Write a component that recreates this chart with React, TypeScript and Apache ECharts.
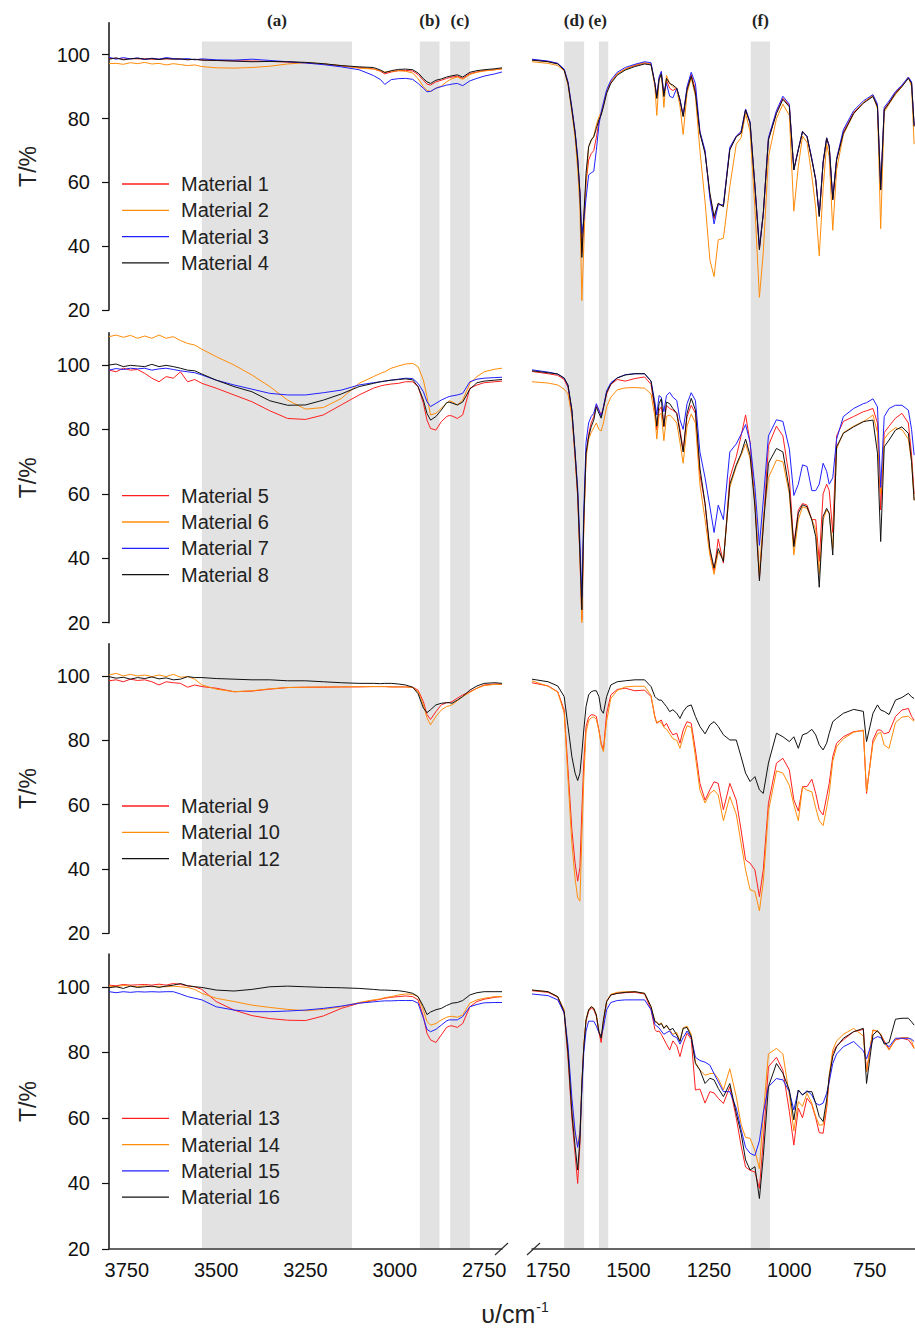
import React, { useEffect, useRef } from "react";
import * as echarts from "echarts";

// ---------- wavenumber grids (cm-1) ----------
const L_WN = [3800, 3780, 3760, 3740, 3720, 3700, 3680, 3660, 3640, 3620,
  3600, 3580, 3560, 3540, 3500, 3450, 3400, 3350, 3300, 3250,
  3200, 3150, 3100, 3060, 3040, 3028, 3010, 2990, 2970, 2950,
  2935, 2920, 2910, 2900, 2885, 2870, 2855, 2848, 2840, 2825,
  2810, 2790, 2770, 2750, 2720, 2700];

const R_WN = [1800, 1750, 1720, 1700, 1688, 1676, 1666, 1658, 1651, 1645,
  1639, 1632, 1624, 1616, 1608, 1600, 1592, 1585, 1578, 1568,
  1555, 1535, 1510, 1480, 1450, 1430, 1418, 1412, 1405, 1398,
  1390, 1382, 1372, 1362, 1350, 1340, 1330, 1318, 1305, 1292,
  1278, 1262, 1247, 1234, 1221, 1205, 1185, 1165, 1150, 1136,
  1122, 1107, 1093, 1081, 1065, 1040, 1020, 1000, 986, 972,
  959, 945, 930, 918, 907, 895, 884, 876, 865, 853,
  832, 800, 770, 760, 740, 726, 716, 705, 690, 670,
  650, 630, 620, 612];

// ---------- transmittance (T/%) ----------
// Panel 1
const M1_L = [98.8, 98.9, 98.6, 98.8, 98.7, 98.7, 98.6, 98.6, 98.7, 98.7,
  98.6, 98.5, 98.5, 98.4, 98.2, 98.1, 98.0, 97.9, 97.7, 97.5,
  97.1, 96.5, 96.0, 95.6, 94.8, 94.0, 94.6, 95.0, 95.1, 94.9,
  93.8, 92.0, 90.8, 90.5, 91.5, 92.0, 92.6, 92.8, 93.0, 93.3,
  92.6, 94.1, 94.6, 95.0, 95.3, 95.6];
const M2_L = [97.2, 97.3, 97.0, 97.5, 97.2, 97.6, 97.1, 97.3, 96.8, 97.2,
  96.9, 96.6, 96.8, 96.3, 95.9, 95.8, 96.0, 96.4, 97.1, 97.5,
  97.1, 96.6, 95.8, 95.5, 95.0, 94.6, 94.8, 95.0, 94.8, 94.3,
  92.5, 90.0, 88.8, 88.5, 89.5, 90.2, 91.5, 92.0, 92.5, 93.0,
  92.3, 93.8, 94.5, 94.9, 95.3, 95.6];
const M3_L = [99.2, 98.6, 99.1, 98.7, 99.0, 98.5, 98.9, 98.6, 99.1, 98.8,
  98.6, 98.8, 98.4, 98.7, 98.4, 98.3, 98.6, 98.2, 97.8, 97.4,
  96.9, 96.2, 95.3, 93.5, 92.2, 90.7, 92.2, 92.5, 92.6, 92.3,
  91.0, 89.5, 88.4, 88.5, 89.5, 90.0, 90.5, 90.6, 90.8, 91.0,
  90.3, 91.8, 92.6, 93.3, 94.0, 94.6];
const M4_L = [98.6, 99.0, 98.4, 98.7, 98.9, 98.6, 98.8, 98.5, 98.8, 98.6,
  98.7, 98.4, 98.6, 98.3, 98.2, 98.0, 97.8, 97.9, 97.8, 97.6,
  97.2, 96.6, 96.2, 96.0, 95.2, 94.4, 95.0, 95.4, 95.5, 95.3,
  94.3, 92.5, 91.5, 91.0, 92.0, 92.4, 93.0, 93.2, 93.4, 93.7,
  93.0, 94.5, 95.0, 95.3, 95.6, 95.9];

const M1_R = [98.4, 97.9, 97.2, 95.3, 91.2, 83.0, 75.6, 67.3, 56.8, 38.0,
  49.0, 60.0, 67.0, 69.0, 70.0, 74.0, 79.0, 81.5, 84.2, 88.3,
  91.4, 94.0, 95.5, 96.6, 97.4, 97.1, 91.0, 86.5, 92.5, 94.3,
  87.3, 92.0, 89.5, 88.8, 89.5, 85.9, 80.8, 89.4, 93.8, 89.0,
  75.6, 69.5, 56.0, 48.5, 53.3, 52.6, 70.5, 74.4, 75.6, 82.8,
  78.7, 58.8, 39.2, 50.2, 73.6, 81.9, 86.4, 84.0, 64.0, 70.3,
  75.9, 74.4, 67.2, 60.9, 49.6, 66.2, 73.9, 71.3, 54.7, 67.2,
  75.8, 81.9, 85.0, 85.7, 87.1, 84.0, 57.8, 83.0, 85.0, 88.1,
  90.2, 92.8, 91.2, 77.7];
const M2_R = [97.8, 97.3, 96.6, 95.0, 90.5, 82.0, 74.0, 64.0, 52.0, 23.0,
  40.0, 60.0, 71.0, 73.0, 74.5, 78.0, 80.5, 82.0, 84.5, 88.5,
  91.5, 94.0, 95.5, 96.8, 97.5, 97.0, 90.0, 81.0, 92.0, 94.5,
  83.5, 93.5, 91.0, 90.0, 89.0, 84.0, 75.0, 88.0, 92.8, 87.0,
  70.0, 54.0, 35.7, 30.5, 42.0, 42.5, 58.7, 72.0, 74.0, 81.5,
  76.0, 52.0, 24.0, 38.0, 68.0, 80.0, 84.5, 81.0, 51.0, 65.0,
  74.5, 72.5, 62.0, 52.0, 37.0, 58.0, 72.0, 68.0, 45.0, 64.0,
  75.0, 81.5, 85.0, 85.8, 87.3, 83.0, 45.5, 82.0, 84.5, 87.5,
  90.0, 93.0, 90.0, 72.0];
const M3_R = [98.6, 98.0, 97.3, 95.5, 91.5, 83.5, 76.0, 68.0, 57.0, 44.0,
  48.0, 55.0, 62.3, 63.0, 63.5, 70.0, 78.0, 82.0, 85.0, 89.0,
  92.0, 94.5, 96.0, 97.0, 97.8, 97.5, 91.0, 87.0, 93.0, 94.8,
  88.0, 91.0, 87.0, 86.5, 89.5, 86.0, 81.0, 90.0, 94.5, 91.0,
  76.0, 70.0, 55.0, 47.0, 53.0, 53.0, 71.0, 74.5, 76.0, 83.0,
  79.0, 59.0, 40.0, 50.0, 74.0, 82.5, 87.0, 84.5, 64.0, 70.5,
  76.0, 74.5, 67.5, 61.0, 50.0, 66.5, 74.0, 71.5, 55.0, 67.5,
  76.5, 82.5, 85.5, 86.2, 87.5, 84.5, 58.0, 83.5, 85.5, 88.5,
  90.5, 93.0, 91.5, 78.0];
const M4_R = [98.3, 97.8, 97.1, 95.2, 91.0, 82.7, 75.4, 67.0, 56.6, 36.5,
  49.3, 62.9, 71.2, 73.3, 74.3, 76.9, 79.6, 81.1, 83.7, 87.9,
  91.0, 93.6, 95.2, 96.3, 97.1, 96.8, 91.0, 86.3, 92.1, 94.0,
  86.9, 92.6, 91.0, 90.5, 89.5, 85.8, 80.6, 89.0, 93.3, 88.0,
  75.4, 69.1, 56.6, 49.3, 53.5, 52.4, 70.2, 74.3, 75.4, 82.7,
  78.5, 58.7, 38.9, 50.3, 73.3, 81.6, 86.0, 83.7, 63.9, 70.2,
  75.9, 74.3, 67.0, 60.8, 49.3, 66.0, 73.8, 71.2, 54.5, 67.0,
  75.4, 81.6, 84.8, 85.5, 86.9, 83.7, 57.6, 82.7, 84.8, 87.9,
  90.0, 92.6, 91.0, 77.5];

// Panel 2
const M5_L = [98.4, 97.9, 99.0, 98.4, 98.6, 97.4, 95.9, 94.8, 96.4, 95.9,
  97.9, 94.8, 95.5, 94.3, 92.8, 90.7, 88.6, 85.8, 83.4, 83.1,
  84.5, 87.6, 90.7, 92.8, 93.5, 93.8, 94.1, 94.3, 94.8, 94.8,
  93.3, 88.1, 82.9, 80.3, 79.8, 82.4, 84.0, 84.3, 84.2, 83.4,
  84.5, 92.8, 93.8, 94.5, 94.8, 95.0];
const M6_L = [108.8, 109.3, 108.6, 109.2, 108.3, 109.0, 108.3, 109.3, 108.3, 108.8,
  107.6, 106.7, 106.2, 104.9, 102.6, 100.0, 96.9, 93.3, 89.1, 86.3,
  86.8, 89.6, 94.3, 96.4, 97.4, 97.9, 99.0, 99.7, 100.3, 100.5,
  99.5, 95.3, 90.2, 84.5, 85.0, 86.6, 88.1, 88.9, 88.6, 87.6,
  89.1, 94.3, 96.4, 97.9, 98.7, 99.0];
const M7_L = [98.4, 98.9, 98.6, 99.0, 98.8, 99.0, 98.4, 98.8, 99.0, 98.6,
  98.2, 97.9, 97.6, 96.9, 95.3, 93.8, 92.5, 91.2, 90.7, 90.7,
  91.4, 92.2, 93.8, 94.5, 94.8, 95.0, 95.3, 95.6, 95.9, 95.8,
  94.3, 91.7, 88.6, 87.1, 88.1, 89.1, 89.9, 90.2, 90.4, 90.7,
  91.2, 94.8, 95.6, 95.9, 96.1, 96.2];
const M8_L = [100.0, 100.3, 99.5, 99.9, 99.7, 99.5, 100.2, 99.5, 99.9, 99.5,
  99.0, 98.4, 98.2, 97.2, 95.3, 93.3, 91.7, 88.9, 87.5, 87.6,
  89.1, 91.0, 93.3, 94.3, 94.8, 95.0, 95.3, 95.5, 95.7, 95.4,
  93.3, 89.1, 85.0, 82.9, 84.0, 86.0, 88.3, 88.5, 88.2, 87.6,
  88.5, 92.5, 94.5, 95.0, 95.3, 95.5];

const M5_R = [98.0, 97.3, 96.8, 95.5, 93.0, 85.0, 71.0, 59.0, 40.0, 21.0,
  50.0, 72.0, 78.5, 82.0, 84.0, 87.5, 86.0, 84.5, 86.8, 91.0,
  94.0, 95.5, 95.0, 95.8, 96.3, 94.0, 86.0, 79.8, 86.0, 87.0,
  80.8, 87.5, 86.5, 86.0, 85.0, 80.0, 73.5, 84.0, 87.5, 85.0,
  66.0, 57.0, 42.0, 36.0, 46.0, 38.5, 65.0, 71.5, 78.0, 84.5,
  76.0, 57.0, 34.0, 50.0, 75.0, 81.0, 78.0, 65.0, 44.0, 55.0,
  57.0, 56.5, 52.0, 52.0, 39.0, 60.0, 63.0, 61.0, 48.0, 78.0,
  82.5, 84.0, 85.5, 85.8, 86.5, 82.0, 55.0, 79.0, 81.0, 83.5,
  85.0, 82.0, 72.0, 60.0];
const M6_R = [94.8, 94.4, 93.8, 92.5, 91.0, 84.0, 72.0, 60.0, 41.0, 20.0,
  50.0, 71.0, 77.0, 79.0, 80.5, 82.0, 80.0, 79.5, 82.0, 87.0,
  90.0, 92.3, 92.9, 93.0, 92.8, 91.0, 84.0, 77.0, 84.5, 85.0,
  76.5, 84.0, 84.5, 83.5, 82.0, 76.0, 69.5, 81.0, 84.8, 82.0,
  63.0, 52.0, 41.0, 35.0, 42.0, 39.5, 62.0, 68.5, 72.0, 75.5,
  71.0, 58.0, 35.0, 52.0, 65.0, 70.5, 70.0, 60.0, 41.0, 52.0,
  56.0, 55.5, 52.0, 49.0, 35.0, 52.0, 55.0, 54.0, 43.0, 74.0,
  79.0, 81.0, 82.5, 83.0, 84.5, 79.0, 60.0, 77.0, 79.0, 80.5,
  80.0, 77.0, 70.0, 58.0];
const M7_R = [98.5, 97.8, 97.2, 96.0, 93.5, 86.0, 73.0, 62.0, 45.0, 28.0,
  55.0, 76.0, 82.0, 84.0, 85.0, 88.0, 86.0, 84.0, 87.0, 92.0,
  94.5, 96.0, 97.0, 97.3, 97.3, 95.0, 88.5, 84.5, 90.5, 90.0,
  85.5, 90.5, 91.5, 90.0, 89.0, 83.0, 80.0, 88.0, 91.4, 89.0,
  73.0, 65.0, 56.0, 48.0, 56.5, 52.0, 73.0, 75.5, 78.5, 81.5,
  76.0, 62.0, 44.0, 58.0, 78.0, 83.0, 82.5, 74.0, 59.5, 63.0,
  69.0, 68.5, 61.0, 61.0, 63.0, 69.5, 67.0, 63.0, 65.0, 77.0,
  84.0, 86.5, 88.0, 88.3, 89.5, 87.0, 62.0, 84.0, 86.5, 87.5,
  87.5, 86.0, 80.0, 72.0];
const M8_R = [98.2, 97.6, 97.2, 95.9, 93.8, 86.0, 72.6, 60.2, 41.5, 24.0,
  52.0, 72.6, 77.7, 80.8, 82.9, 87.0, 85.0, 83.5, 86.5, 91.5,
  94.0, 96.0, 96.9, 97.3, 97.3, 95.0, 87.0, 81.0, 88.0, 89.5,
  81.0, 88.5, 88.0, 86.5, 85.0, 79.0, 73.0, 85.0, 89.7, 86.0,
  68.0, 57.0, 43.0, 37.0, 43.0, 39.0, 63.0, 69.0, 72.5, 77.0,
  72.0, 56.0, 33.0, 49.8, 69.5, 74.1, 73.0, 61.2, 43.6, 54.0,
  56.6, 56.0, 51.9, 46.7, 31.0, 53.0, 55.5, 54.0, 41.0, 74.6,
  78.8, 80.8, 82.4, 82.6, 82.9, 72.6, 45.2, 74.6, 76.7, 79.8,
  80.8, 78.8, 70.0, 58.0];

// Panel 3
const M9_L = [98.5, 98.8, 98.2, 99.0, 98.6, 98.8, 98.2, 97.2, 98.2, 97.9,
  97.7, 96.5, 97.2, 96.7, 96.2, 95.1, 95.3, 95.9, 96.4, 96.5,
  96.5, 96.6, 96.6, 96.7, 96.7, 96.7, 96.6, 96.6, 96.6, 96.5,
  95.6, 92.0, 88.0, 86.5, 88.9, 91.0, 91.7, 91.7, 92.0, 93.1,
  94.1, 95.1, 96.2, 97.2, 97.5, 97.4];
const M10_L = [100.3, 100.8, 100.0, 100.5, 100.0, 100.3, 99.8, 100.3, 99.8, 100.5,
  99.6, 99.8, 99.0, 97.2, 95.9, 95.1, 95.4, 96.0, 96.4, 96.5,
  96.6, 96.6, 96.7, 96.7, 96.7, 96.7, 96.6, 96.6, 96.6, 96.4,
  95.1, 91.0, 87.0, 84.8, 87.4, 89.4, 90.5, 90.7, 91.0, 92.3,
  93.6, 94.9, 96.2, 97.0, 97.4, 97.4];
const M12_L = [99.8, 99.3, 99.6, 99.0, 99.5, 99.2, 99.7, 99.1, 99.4, 98.8,
  99.0, 99.8, 99.5, 99.5, 99.2, 99.0, 98.8, 98.8, 98.5, 98.5,
  98.2, 97.9, 97.7, 97.7, 97.6, 97.7, 97.7, 97.5, 97.2, 96.5,
  94.5, 90.0, 88.6, 89.5, 91.0, 91.5, 91.7, 91.7, 91.5, 92.5,
  93.6, 95.6, 96.9, 97.7, 97.9, 97.7];

const M9_R = [97.9, 96.9, 95.1, 89.4, 70.8, 52.1, 41.8, 36.2, 40.5, 58.0,
  73.0, 84.3, 87.2, 87.9, 87.9, 87.4, 83.2, 79.1, 77.0, 88.4,
  94.1, 95.8, 96.2, 95.4, 95.6, 93.6, 87.4, 85.3, 85.8, 86.3,
  84.3, 85.3, 83.2, 81.7, 82.2, 79.1, 83.2, 85.8, 85.3, 77.0,
  66.6, 61.4, 64.6, 67.1, 66.6, 58.4, 66.6, 61.4, 52.1, 42.8,
  41.8, 39.7, 31.4, 39.7, 60.4, 72.9, 74.4, 70.8, 61.5, 58.0,
  65.6, 65.6, 67.9, 63.5, 58.4, 56.8, 62.5, 66.6, 74.9, 79.1,
  81.1, 82.7, 83.0, 63.5, 80.1, 83.2, 83.2, 82.0, 82.5, 87.4,
  89.4, 89.9, 87.4, 86.3];
const M10_R = [98.5, 96.8, 95.0, 88.5, 68.0, 48.0, 37.0, 31.0, 30.0, 50.0,
  68.0, 82.5, 86.0, 87.0, 87.3, 86.5, 83.0, 78.5, 76.5, 86.0,
  93.0, 95.5, 96.6, 96.8, 96.8, 94.0, 87.0, 85.5, 86.0, 85.5,
  84.0, 83.5, 82.0, 80.5, 80.0, 77.5, 81.0, 84.5, 84.0, 75.0,
  64.5, 60.5, 63.5, 64.5, 63.0, 55.0, 62.5, 57.0, 48.0, 39.7,
  33.5, 33.0, 27.0, 36.0, 58.0, 70.5, 69.8, 66.0, 60.0, 55.0,
  65.5, 64.5, 64.0, 59.0, 55.0, 53.5, 59.0, 63.5, 73.5, 78.0,
  80.5, 82.5, 83.2, 64.0, 79.0, 82.0, 82.5, 78.5, 77.5, 85.5,
  87.2, 87.5, 86.5, 86.0];
const M12_R = [99.0, 98.2, 96.9, 93.6, 84.3, 74.9, 69.8, 67.5, 69.8, 76.0,
  83.2, 90.5, 94.1, 95.1, 95.4, 95.4, 93.6, 89.4, 88.4, 93.6,
  97.2, 98.2, 98.5, 98.8, 98.8, 96.7, 93.6, 93.0, 92.5, 92.5,
  91.5, 90.5, 88.9, 89.5, 88.4, 86.8, 88.9, 90.5, 91.0, 87.4,
  84.3, 82.0, 84.8, 85.8, 84.3, 81.7, 80.1, 80.1, 74.9, 69.8,
  67.2, 68.7, 64.6, 63.5, 72.9, 82.2, 81.1, 79.6, 81.1, 77.5,
  81.7, 82.2, 83.4, 81.7, 78.6, 77.0, 79.1, 82.2, 85.8, 86.8,
  88.4, 89.6, 89.0, 79.6, 88.4, 91.0, 89.4, 89.0, 88.0, 92.5,
  93.3, 94.6, 93.5, 93.0];

// Panel 4
const M13_L = [100.5, 100.3, 100.7, 100.5, 100.6, 100.7, 100.5, 100.8, 100.5, 101.0,
  100.7, 100.3, 100.0, 99.2, 95.5, 92.9, 91.2, 90.3, 89.8, 89.7,
  91.1, 93.4, 95.0, 95.8, 96.2, 96.5, 96.8, 97.0, 97.2, 97.0,
  96.0, 90.9, 85.8, 83.8, 83.0, 85.3, 87.6, 88.0, 88.1, 87.6,
  88.8, 93.9, 95.5, 96.2, 96.8, 97.0];
const M14_L = [100.2, 100.0, 100.4, 100.2, 100.0, 100.3, 100.0, 100.2, 100.0, 100.2,
  100.0, 99.8, 99.2, 98.0, 96.5, 95.5, 94.4, 93.7, 93.1, 92.7,
  93.1, 93.9, 95.2, 96.0, 96.3, 96.7, 97.0, 97.5, 97.8, 97.7,
  97.0, 92.9, 89.4, 88.3, 88.8, 89.9, 90.7, 90.9, 91.0, 90.7,
  91.4, 95.0, 96.0, 96.5, 97.0, 97.0];
const M15_L = [98.5, 98.2, 98.5, 98.3, 98.5, 98.4, 98.5, 98.4, 98.5, 98.5,
  97.8, 97.0, 96.5, 96.0, 93.9, 92.9, 92.4, 92.4, 92.6, 92.9,
  93.4, 94.1, 95.0, 95.4, 95.6, 95.7, 95.7, 95.8, 95.8, 95.8,
  95.0, 90.4, 87.0, 86.3, 87.0, 88.3, 89.6, 89.9, 89.9, 89.9,
  90.9, 93.9, 94.6, 95.1, 95.2, 95.2];
const M16_L = [99.7, 100.0, 99.5, 100.2, 99.8, 100.0, 100.2, 99.8, 100.2, 100.5,
  101.0, 100.3, 100.0, 99.8, 99.0, 98.7, 99.2, 100.0, 100.2, 100.0,
  99.8, 99.7, 99.5, 99.2, 99.0, 99.0, 98.9, 98.8, 98.5, 98.0,
  97.0, 94.0, 91.5, 92.3, 93.0, 93.4, 94.3, 94.6, 95.0, 95.2,
  95.8, 97.5, 98.2, 98.5, 98.5, 98.5];

const M13_R = [98.8, 98.3, 96.8, 92.0, 78.0, 60.0, 49.0, 40.0, 52.0, 70.0,
  81.7, 89.5, 92.5, 93.5, 93.0, 91.0, 86.0, 83.0, 89.0, 95.5,
  97.5, 98.0, 98.2, 98.3, 97.8, 93.0, 87.0, 86.3, 86.5, 85.5,
  84.0, 82.5, 80.7, 83.5, 82.0, 78.7, 82.5, 85.8, 84.0, 68.5,
  68.8, 64.5, 68.0, 67.6, 66.0, 64.4, 69.5, 60.0, 51.5, 45.0,
  44.0, 43.5, 38.5, 53.0, 75.6, 78.5, 74.5, 62.0, 51.7, 63.0,
  60.0, 66.0, 64.0, 60.0, 55.5, 55.3, 63.0, 72.0, 79.7, 82.0,
  83.8, 86.3, 87.0, 74.0, 86.8, 86.3, 85.5, 83.5, 81.0, 83.8,
  84.3, 83.8, 82.5, 81.2];
const M14_R = [99.0, 98.5, 97.0, 93.0, 80.0, 63.0, 55.0, 51.5, 56.0, 70.0,
  82.0, 90.0, 93.0, 94.0, 93.5, 91.5, 86.5, 84.8, 89.5, 95.5,
  97.7, 98.3, 98.5, 98.5, 98.0, 94.0, 89.5, 89.3, 88.5, 89.0,
  87.5, 88.0, 86.8, 85.5, 86.0, 83.5, 87.5, 88.0, 85.5, 77.0,
  74.6, 73.0, 73.5, 73.6, 72.0, 68.5, 75.0, 66.5, 58.0, 54.0,
  53.8, 50.0, 44.5, 61.0, 79.5, 81.2, 79.5, 67.0, 56.0, 65.0,
  63.5, 67.5, 64.5, 60.5, 57.8, 57.9, 63.5, 73.0, 80.7, 83.5,
  85.5, 87.3, 85.0, 74.0, 86.8, 86.5, 85.5, 83.0, 80.7, 84.0,
  84.5, 84.5, 83.5, 81.2];
const M15_R = [97.8, 97.3, 96.0, 92.0, 82.0, 66.0, 56.0, 51.0, 55.0, 68.0,
  80.0, 86.5, 89.5, 89.5, 89.5, 88.0, 86.0, 85.0, 87.5, 93.0,
  95.2, 95.8, 96.0, 96.0, 96.0, 93.0, 88.5, 88.0, 87.5, 86.5,
  85.5, 86.0, 86.5, 85.0, 84.5, 82.5, 84.5, 86.5, 84.5, 78.5,
  77.5, 77.0, 76.1, 73.5, 71.0, 68.0, 68.0, 63.0, 56.5, 51.0,
  49.2, 48.5, 53.0, 61.5, 69.5, 72.0, 71.6, 68.0, 62.4, 68.5,
  67.0, 68.3, 67.0, 64.5, 63.9, 64.5, 67.5, 71.0, 76.6, 79.5,
  81.7, 83.3, 80.5, 78.0, 84.0, 84.8, 84.5, 83.0, 81.7, 84.3,
  84.3, 84.3, 84.0, 83.3];
const M16_R = [99.0, 98.5, 97.0, 92.4, 79.7, 61.4, 51.2, 44.1, 53.3, 70.5,
  81.7, 89.9, 92.9, 93.9, 93.4, 91.4, 86.3, 84.3, 89.9, 95.5,
  97.5, 98.0, 98.3, 98.5, 98.0, 93.9, 89.4, 89.1, 88.3, 88.8,
  87.3, 88.3, 86.8, 87.3, 85.3, 83.3, 87.3, 87.6, 84.8, 76.6,
  74.6, 70.5, 72.1, 71.6, 69.0, 66.5, 70.5, 61.4, 55.3, 47.2,
  44.1, 45.1, 35.4, 48.2, 69.5, 76.6, 73.6, 68.5, 59.4, 68.5,
  67.0, 68.0, 68.0, 64.4, 60.4, 58.9, 65.5, 72.6, 78.7, 81.7,
  84.3, 86.3, 87.3, 70.5, 85.3, 86.6, 85.3, 82.5, 83.0, 90.1,
  90.4, 90.4, 89.3, 88.3];

// ---------- tick labels & shaded bands ----------
const Y_TICKS = [20, 40, 60, 80, 100];
const L_TICKS = [3750, 3500, 3250, 3000, 2750];
const R_TICKS = [1750, 1500, 1250, 1000, 750];
const BAND_L_NAMES = ["(a)", "(b)", "(c)"];
const BAND_L_FROM = [3540, 2930, 2845];
const BAND_L_TO = [3120, 2875, 2790];
const BAND_R_NAMES = ["(d)", "(e)", "(f)"];
const BAND_R_FROM = [1700, 1592, 1120];
const BAND_R_TO = [1638, 1563, 1060];

// ---------- styles ----------
const RED = "#ff1f1f";
const ORANGE = "#ff8c0a";
const BLUE = "#2020ff";
const BLACK = "#111111";
const FONT = '"Liberation Sans", Arial, sans-serif';
const SERIF = '"Liberation Serif", "Times New Roman", serif';

const PANELS = [
  { names: ["Material 1", "Material 2", "Material 3", "Material 4"], colors: [RED, ORANGE, BLUE, BLACK], left: [M1_L, M2_L, M3_L, M4_L], right: [M1_R, M2_R, M3_R, M4_R] },
  { names: ["Material 5", "Material 6", "Material 7", "Material 8"], colors: [RED, ORANGE, BLUE, BLACK], left: [M5_L, M6_L, M7_L, M8_L], right: [M5_R, M6_R, M7_R, M8_R] },
  { names: ["Material 9", "Material 10", "Material 12"], colors: [RED, ORANGE, BLACK], left: [M9_L, M10_L, M12_L], right: [M9_R, M10_R, M12_R] },
  { names: ["Material 13", "Material 14", "Material 15", "Material 16"], colors: [RED, ORANGE, BLUE, BLACK], left: [M13_L, M14_L, M15_L, M16_L], right: [M13_R, M14_R, M15_R, M16_R] },
];

// ---------- layout ----------
const GRID_TOP = [22.8, 332.8, 643.8, 954];
const GRID_H = [287.3, 289.9, 289.5, 295];
const LEFT_X = 109, LEFT_W = 393, RIGHT_X = 532, RIGHT_W = 386;
const BAND_TOP = 41.5, BAND_BOTTOM = 1248.5;
const LEGEND_Y0 = [184, 495.7, 806, 1118.3];
const LEGEND_STEP = 26.3;

function buildOption() {
  const grid: any[] = [];
  const xAxis: any[] = [];
  const yAxis: any[] = [];
  const series: any[] = [];
  const graphic: any[] = [];

  PANELS.forEach((p, pi) => {
    const bottom = pi === PANELS.length - 1;
    [0, 1].forEach((side) => {
      const gi = pi * 2 + side;
      grid.push({
        left: side === 0 ? LEFT_X : RIGHT_X,
        width: side === 0 ? LEFT_W : RIGHT_W,
        top: GRID_TOP[pi],
        height: GRID_H[pi],
        containLabel: false,
        outerBoundsMode: "none",
      });
      xAxis.push({
        gridIndex: gi,
        type: "value",
        min: side === 0 ? 2700 : 600,
        max: side === 0 ? 3800 : 1800,
        inverse: true,
        show: bottom,
        z: 5,
        axisLine: { show: true, onZero: false, lineStyle: { color: "#333", width: 1.5 } },
        axisTick: { show: false },
        splitLine: { show: false },
        axisLabel: {
          customValues: side === 0 ? L_TICKS : R_TICKS,
          formatter: (v: number) => String(v),
          fontSize: 20,
          fontFamily: FONT,
          color: "#111",
          margin: 11,
        },
      });
      yAxis.push({
        gridIndex: gi,
        type: "value",
        min: 20,
        max: 110,
        interval: 20,
        show: side === 0,
        name: side === 0 ? "T/%" : "",
        nameLocation: "middle",
        nameGap: 70,
        nameTextStyle: { fontSize: 23, fontFamily: FONT, color: "#222" },
        axisLine: { show: true, lineStyle: { color: "#111", width: 1.5 } },
        axisTick: { show: true, inside: false, length: 7, customValues: Y_TICKS, lineStyle: { color: "#111", width: 1.2 } },
        axisLabel: { customValues: Y_TICKS, formatter: (v: number) => String(v), fontSize: 20, fontFamily: FONT, color: "#111", margin: 19 },
        splitLine: { show: false },
      });
      const wn = side === 0 ? L_WN : R_WN;
      const sets = side === 0 ? p.left : p.right;
      sets.forEach((vals, mi) => {
        series.push({
          type: "line",
          name: p.names[mi],
          xAxisIndex: gi,
          yAxisIndex: gi,
          data: wn.map((w, k) => [w, vals[k]]),
          showSymbol: false,
          symbol: "none",
          silent: true,
          z: 3,
          lineStyle: { color: p.colors[mi], width: 1 },
          itemStyle: { color: p.colors[mi] },
        });
      });
    });

    // legend keys
    p.names.forEach((name, mi) => {
      const y = LEGEND_Y0[pi] + mi * LEGEND_STEP;
      graphic.push({
        type: "line",
        z: 100,
        shape: { x1: 122, y1: y, x2: 169, y2: y },
        style: { stroke: p.colors[mi], lineWidth: 1.3 },
        silent: true,
      });
      graphic.push({
        type: "text",
        z: 100,
        x: 181,
        y: y,
        style: { text: name, fill: "#222", fontSize: 20, fontFamily: FONT, verticalAlign: "middle", align: "left" },
        silent: true,
      });
    });
  });

  // overlay grids for the shaded bands (span all four rows)
  [0, 1].forEach((side) => {
    const gi = 8 + side;
    grid.push({
      left: side === 0 ? LEFT_X : RIGHT_X,
      width: side === 0 ? LEFT_W : RIGHT_W,
      top: BAND_TOP,
      height: BAND_BOTTOM - BAND_TOP,
      containLabel: false,
      outerBoundsMode: "none",
    });
    xAxis.push({ gridIndex: gi, type: "value", min: side === 0 ? 2700 : 600, max: side === 0 ? 3800 : 1800, inverse: true, show: false });
    yAxis.push({ gridIndex: gi, type: "value", min: 0, max: 1, show: false });
    const names = side === 0 ? BAND_L_NAMES : BAND_R_NAMES;
    const from = side === 0 ? BAND_L_FROM : BAND_R_FROM;
    const to = side === 0 ? BAND_L_TO : BAND_R_TO;
    series.push({
      type: "line",
      name: side === 0 ? "bands-left" : "bands-right",
      xAxisIndex: gi,
      yAxisIndex: gi,
      data: [],
      z: 1,
      silent: true,
      markArea: {
        silent: true,
        itemStyle: { color: "#e2e2e2" },
        label: {
          show: true,
          position: "top",
          distance: 13,
          formatter: "{b}",
          fontFamily: SERIF,
          fontWeight: "bold",
          fontSize: 17,
          color: "#222",
        },
        data: names.map((n, i) => [
          { name: n, xAxis: from[i], label: n === "(e)" ? { offset: [-6, 0] } : undefined },
          { xAxis: to[i] },
        ]),
      },
    });
  });

  // axis break marks
  graphic.push({ type: "line", z: 100, shape: { x1: 495, y1: 1255, x2: 508, y2: 1243 }, style: { stroke: "#333", lineWidth: 1.2 }, silent: true });
  graphic.push({ type: "line", z: 100, shape: { x1: 527, y1: 1255, x2: 540, y2: 1243 }, style: { stroke: "#333", lineWidth: 1.2 }, silent: true });

  // x-axis title (with superscript)
  graphic.push({
    type: "text",
    z: 100,
    x: 515,
    y: 1313,
    style: {
      text: "{m|\u03c5/cm}{s|-1}",
      fill: "#222",
      fontFamily: FONT,
      align: "center",
      verticalAlign: "middle",
      rich: {
        m: { fontSize: 25, fontFamily: FONT, fill: "#222", lineHeight: 26, verticalAlign: "bottom" },
        s: { fontSize: 14, fontFamily: FONT, fill: "#222", lineHeight: 26, verticalAlign: "top", padding: [0, 0, 12, 1] },
      },
    },
    silent: true,
  });

  return {
    animation: false,
    backgroundColor: "#ffffff",
    grid,
    xAxis,
    yAxis,
    series,
    graphic,
  };
}

export default function App() {
  const ref = useRef<HTMLDivElement>(null);
  useEffect(() => {
    if (!ref.current) return;
    const chart = echarts.init(ref.current, undefined, { renderer: "svg" });
    chart.setOption(buildOption() as any);
    return () => chart.dispose();
  }, []);
  return (
    <div
      ref={ref}
      style={{ position: "absolute", left: 0, top: 0, width: 915, height: 1330, background: "#fff" }}
    />
  );
}
